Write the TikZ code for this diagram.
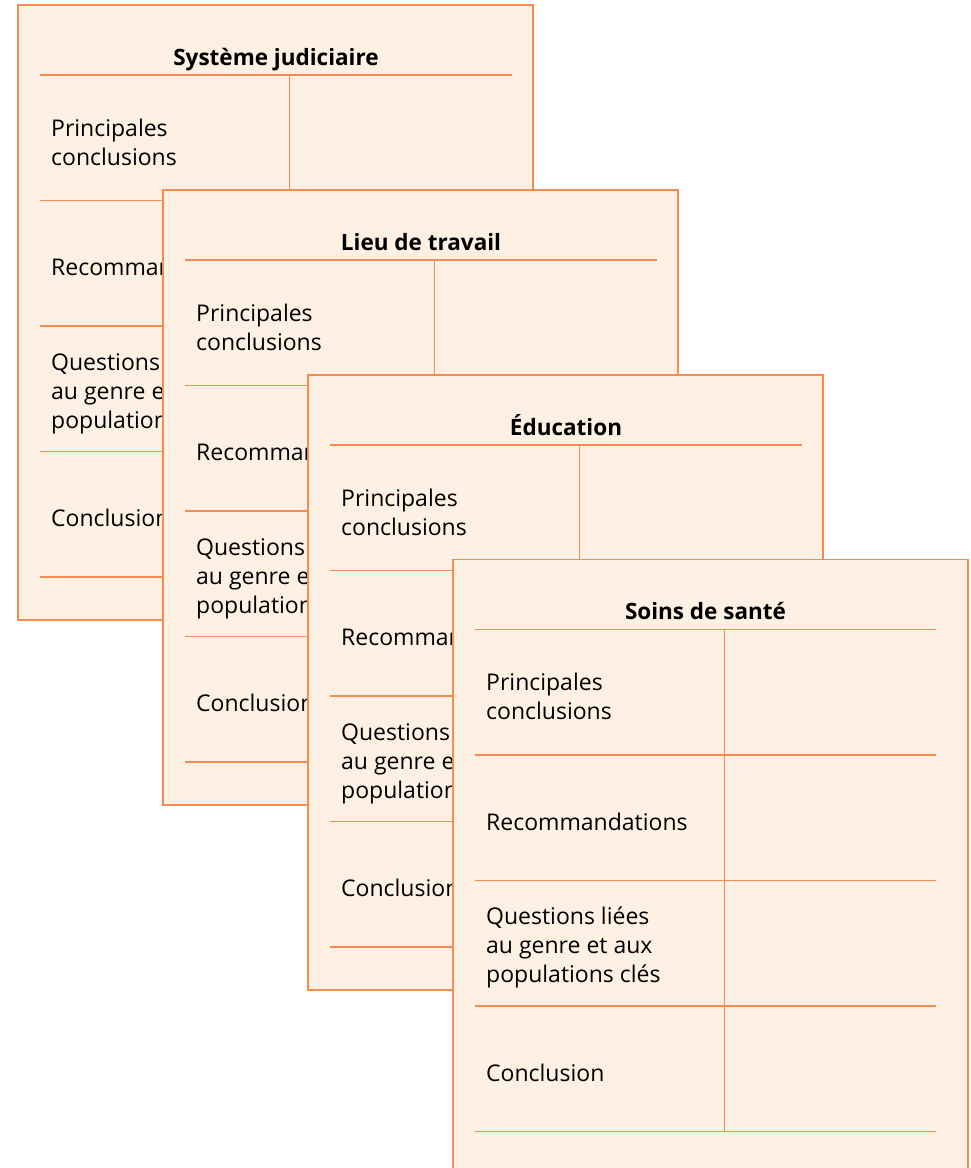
\documentclass[tikz,border=0pt]{standalone}
\usepackage{fontspec}
\setmainfont{Open Sans}
\usetikzlibrary{positioning}
\definecolor{sheetfill}{HTML}{FEF1E4}
\definecolor{sheetline}{HTML}{F78C50}

\tikzset{
  sheet/.style={draw=sheetline, fill=sheetfill, line width=1.5pt},
  rule/.style={draw=sheetline, line width=1.6pt},
  ttl/.style={font=\bfseries\fontsize{22.5}{26}\selectfont, inner sep=0pt, anchor=base},
  lbl/.style={font=\fontsize{23}{29}\selectfont, align=left, anchor=west, inner sep=0pt},
}

% #1 id, #2 left, #3 top, #4 title, #5 right end of the rules
\newcommand{\sheetcard}[5]{%
  \begin{scope}[shift={(#2,#3)}]
    \draw[sheet] (0,0) rectangle (515,615);
    \node[ttl] (#1-title) at ({(22+#5)/2},60) {#4};
    \foreach \y in {70,195.5,321,446.5,572}
      \draw[rule] (22,\y) -- (#5,\y);
    \draw[rule] (271.5,70) -- (271.5,572);
    \node[lbl] (#1-main) at (33,137) {Principales\\conclusions};
    \node[lbl] (#1-reco) at (33,262) {Recommandations};
    \node[lbl] (#1-gen)  at (33,388) {Questions liées\\au genre et aux\\populations clés};
    \node[lbl] (#1-end)  at (33,513) {Conclusion};
  \end{scope}}

\begin{document}
\begin{tikzpicture}[x=1pt, y=-1pt]
  \useasboundingbox (0,0) rectangle (970,1168);
  \fill[white] (0,0) rectangle (970,1168);
  \sheetcard{justice}{18}{5}{Système judiciaire}{494}
  \sheetcard{work}{163}{190}{Lieu de travail}{494}
  \sheetcard{school}{308}{375}{Éducation}{494}
  \sheetcard{health}{453}{559.5}{Soins de santé}{483}
\end{tikzpicture}
\end{document}
